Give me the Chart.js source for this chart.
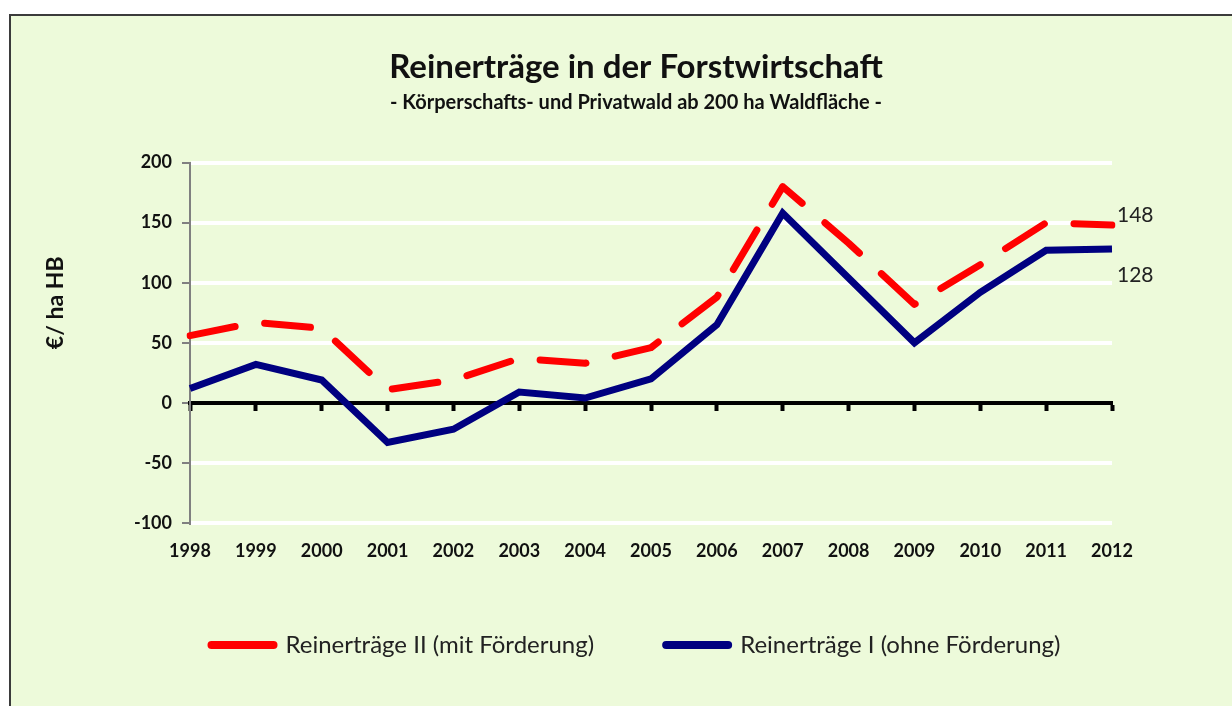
<!DOCTYPE html>
<html>
<head>
<meta charset="utf-8">
<script src="https://cdn.jsdelivr.net/npm/chart.js@4.4.0/dist/chart.umd.min.js"></script>
<style>
  html, body { margin: 0; padding: 0; background: #fff; }
  body { width: 1232px; height: 706px; position: relative; overflow: hidden; }
  .frame { position: absolute; left: 9px; top: 14px; width: 1240px; height: 700px; border: 2px solid #3b3b3b; background: #edfada; }
  .wrap { position: absolute; left: 0; top: 0; width: 1232px; height: 706px; }
</style>
</head>
<body>
<div class="frame"></div>
<div class="wrap"><canvas id="chart" width="1232" height="706"></canvas></div>
<script>
// Data
const years = ['1998', '1999', '2000', '2001', '2002', '2003', '2004', '2005', '2006', '2007', '2008', '2009', '2010', '2011', '2012'];
const mitFoerderung = [56, 67, 62, 11, 19, 37, 33, 46, 88, 180, 133, 82, 115, 150, 148];
const ohneFoerderung = [12, 32, 19, -33, -22, 9, 4, 20, 65, 158, 104, 50, 92, 127, 128];
const yMin = -100;
const yMax = 200;
const yStep = 50;
const yTitle = '€/ ha HB';

Chart.defaults.font.family = 'Lato';
Chart.defaults.color = '#111';

// Value labels at the end of each line
const endLabels = {
    id: 'endLabels',
    afterDatasetsDraw(chart) {
        const ctx = chart.ctx;
        ctx.save();
        ctx.font = '21px Lato';
        ctx.fillStyle = '#222';
        ctx.textBaseline = 'middle';
        ctx.textAlign = 'left';
        chart.data.datasets.forEach((ds, i) => {
            const meta = chart.getDatasetMeta(i);
            const pt = meta.data[meta.data.length - 1];
            const v = ds.data[ds.data.length - 1];
            ctx.fillText(String(v), pt.x + 5, pt.y + ds.labelShift);
        });
        ctx.restore();
    }
};

// Rotated y axis title, sits a bit above the middle of the axis
const yAxisTitle = {
    id: 'yAxisTitle',
    afterDraw(chart) {
        const ctx = chart.ctx;
        const y = chart.scales.y;
        ctx.save();
        ctx.translate(56, y.getPixelForValue(50) - 40);
        ctx.rotate(-Math.PI / 2);
        ctx.font = 'bold 23px Lato';
        ctx.fillStyle = '#111';
        ctx.textAlign = 'center';
        ctx.textBaseline = 'middle';
        ctx.fillText(yTitle, 0, 0);
        ctx.restore();
    }
};

const chart = new Chart(document.getElementById('chart'), {
    type: 'line',
    data: {
        labels: years,
        datasets: [{
            label: 'Reinerträge II (mit Förderung)',
            data: mitFoerderung,
            xAxisID: 'x',
            yAxisID: 'y',
            borderColor: '#ff0000',
            backgroundColor: '#ff0000',
            borderWidth: 7,
            borderDash: [46, 30],
            borderCapStyle: 'round',
            borderJoinStyle: 'round',
            pointRadius: 0,
            tension: 0,
            fill: false,
            labelShift: -10
        }, {
            label: 'Reinerträge I (ohne Förderung)',
            data: ohneFoerderung,
            xAxisID: 'x',
            yAxisID: 'y',
            borderColor: '#000080',
            backgroundColor: '#000080',
            borderWidth: 7,
            borderCapStyle: 'butt',
            borderJoinStyle: 'miter',
            pointRadius: 0,
            tension: 0,
            fill: false,
            labelShift: 26
        }]
    },
    options: {
        responsive: false,
        animation: false,
        layout: {
            padding: { left: 40, right: 0, top: 0, bottom: 39 }
        },
        plugins: {
            title: {
                display: true,
                text: 'Reinerträge in der Forstwirtschaft',
                font: { size: 33, weight: 'bold' },
                color: '#111',
                padding: { top: 48, bottom: 0 }
            },
            subtitle: {
                display: true,
                text: '- Körperschafts- und Privatwald ab 200 ha Waldfläche -',
                font: { size: 20, weight: 'bold' },
                color: '#111',
                padding: { top: 3, bottom: 48 }
            },
            legend: {
                position: 'bottom',
                labels: {
                    usePointStyle: true,
                    pointStyle: 'line',
                    pointStyleWidth: 62,
                    padding: 72,
                    color: '#222',
                    font: { size: 24 },
                    generateLabels(chart) {
                        const items = Chart.defaults.plugins.legend.labels.generateLabels(chart);
                        items.forEach(item => {
                            item.lineDash = [];
                            item.lineCap = 'round';
                            item.lineWidth = 8;
                        });
                        return items;
                    }
                }
            },
            tooltip: { enabled: false }
        },
        scales: {
            x: {
                type: 'category',
                position: 'bottom',
                offset: false,
                grid: { display: false, drawTicks: false },
                border: { display: false },
                ticks: {
                    padding: 17,
                    maxRotation: 0,
                    autoSkip: true,
                    font: { size: 18, weight: 'bold' },
                    color: '#111'
                },
                afterFit(scale) { scale.height = 38; }
            },
            xZero: {
                type: 'category',
                position: { y: 0 },
                offset: false,
                grid: {
                    drawOnChartArea: false,
                    drawTicks: true,
                    tickLength: 6,
                    tickColor: '#000',
                    tickWidth: 4
                },
                border: { display: true, color: '#000', width: 4 },
                ticks: { display: false }
            },
            y: {
                type: 'linear',
                position: 'left',
                min: yMin,
                max: yMax,
                ticks: {
                    stepSize: yStep,
                    padding: 10,
                    font: { size: 18, weight: 'bold' },
                    color: '#111'
                },
                grid: {
                    color: ctx => (ctx.tick && ctx.tick.value === 0 ? '#000' : '#fff'),
                    lineWidth: 4,
                    tickLength: 8,
                    tickColor: '#808080',
                    tickWidth: 2
                },
                border: { display: true, color: '#808080', width: 2 },
                afterFit(scale) { scale.width = 150; }
            },
            yRight: {
                type: 'linear',
                position: 'right',
                min: yMin,
                max: yMax,
                grid: { display: false, drawTicks: false },
                border: { display: false },
                ticks: { display: false },
                afterFit(scale) { scale.width = 120; }
            }
        }
    },
    plugins: [endLabels, yAxisTitle]
});
</script>
</body>
</html>
